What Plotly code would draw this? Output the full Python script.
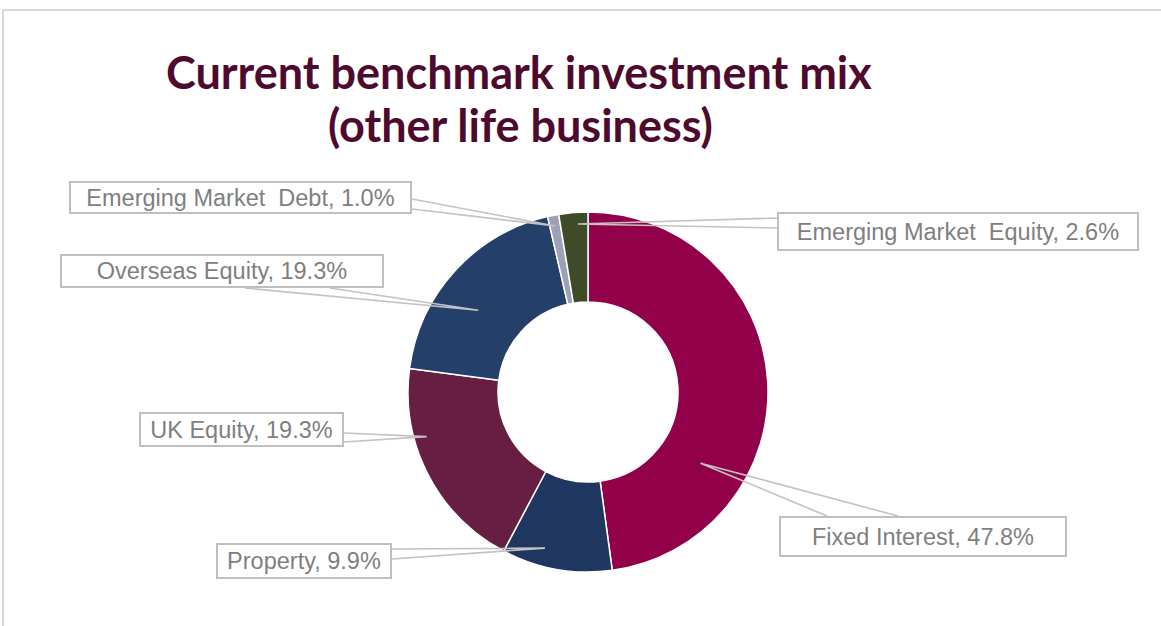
import math
import plotly.graph_objects as go

# Benchmark investment mix, in slice order (clockwise from 12 o'clock)
categories = [
    "Fixed Interest",
    "Property",
    "UK Equity",
    "Overseas Equity",
    "Emerging Market Debt",
    "Emerging Market Equity",
]
shares = [47.8, 9.9, 19.3, 19.3, 1.0, 2.6]
label_texts = [
    "Fixed Interest, 47.8%",
    "Property, 9.9%",
    "UK Equity, 19.3%",
    "Overseas Equity, 19.3%",
    "Emerging Market  Debt, 1.0%",
    "Emerging Market  Equity, 2.6%",
]
title_lines = ["Current benchmark investment mix", "(other life business)"]
slice_colors = ["#93004a", "#1f3660", "#671e43", "#243f6a", "#9ca1b5", "#3f4a28"]

W, H = 1161, 626
CX, CY, R = 588, 392, 180          # donut centre and outer radius (px)

# Callout boxes: centre (px) and size (px)
box_centers = [(923, 536.5), (304, 561), (241.5, 429.5), (222, 271), (240.5, 197.5), (958, 231.5)]
box_sizes = [(288, 41), (176, 36), (205, 35), (324, 34), (343, 33), (362, 39)]
# Leader attachment points on each box edge (px)
leader_feet = [
    [(827, 516), (898, 516)],
    [(392, 549), (392, 559)],
    [(344, 433), (344, 442)],
    [(245, 288), (330, 288)],
    [(412, 199), (412, 209)],
    [(777, 218), (777, 228)],
]
# Where each leader touches its slice: fraction along the slice's arc, fraction of radius
leader_pos = [(0.71, 0.74), (0.65, 0.90), (0.67, 0.93), (0.42, 0.76), (0.5, 0.94), (0.63, 0.935)]
# Title line centres (px)
title_centers = [(519, 72), (520, 125)]


def px(x):
    return x / W


def py(y):
    return 1 - y / H


fig = go.Figure(
    go.Pie(
        labels=categories,
        values=shares,
        sort=False,
        direction="clockwise",
        rotation=0,
        hole=0.5,
        textinfo="none",
        hoverinfo="label+percent",
        marker=dict(colors=slice_colors, line=dict(color="white", width=1.5)),
        domain=dict(x=[px(CX - R), px(CX + R)], y=[py(CY + R), py(CY - R)]),
        showlegend=False,
    )
)

total = sum(shares)
shapes = []
annotations = []
start = 0.0
for i, v in enumerate(shares):
    span = v / total * 360.0
    frac, rr = leader_pos[i]
    theta = math.radians(start + frac * span)
    ax_px = CX + rr * R * math.sin(theta)
    ay_px = CY - rr * R * math.cos(theta)
    (f1x, f1y), (f2x, f2y) = leader_feet[i]
    shapes.append(
        dict(
            type="path",
            xref="paper",
            yref="paper",
            path=f"M {px(f1x)} {py(f1y)} L {px(ax_px)} {py(ay_px)} L {px(f2x)} {py(f2y)}",
            line=dict(color="#c3c3c3", width=1.6),
        )
    )
    bx, by = box_centers[i]
    bw, bh = box_sizes[i]
    annotations.append(
        dict(
            x=px(bx),
            y=py(by),
            xref="paper",
            yref="paper",
            xanchor="center",
            yanchor="middle",
            text=label_texts[i],
            showarrow=False,
            width=bw - 4,
            height=bh - 4,
            align="center",
            valign="middle",
            borderpad=0,
            bordercolor="#bfbfbf",
            borderwidth=2,
            bgcolor="white",
            font=dict(family="Liberation Sans, Arial, sans-serif", size=23.5, color="#7f7f7f"),
        )
    )
    start += span

# Chart title, one annotation per line
for line, (tx, ty) in zip(title_lines, title_centers):
    annotations.append(
        dict(
            x=px(tx),
            y=py(ty),
            xref="paper",
            yref="paper",
            xanchor="center",
            yanchor="middle",
            text=f"<b>{line}</b>",
            showarrow=False,
            align="center",
            font=dict(family="Lato, Carlito, sans-serif", size=45, color="#4d0a2e"),
        )
    )

# Outer chart frame
shapes.append(
    dict(
        type="rect",
        xref="paper",
        yref="paper",
        x0=px(3),
        y0=py(H + 5),
        x1=px(W + 5),
        y1=py(10),
        line=dict(color="#d9d9d9", width=2),
        layer="below",
    )
)

fig.update_layout(
    width=W,
    height=H,
    margin=dict(l=0, r=0, t=0, b=0),
    paper_bgcolor="white",
    plot_bgcolor="white",
    shapes=shapes,
    annotations=annotations,
)

fig.write_html("out.html")
